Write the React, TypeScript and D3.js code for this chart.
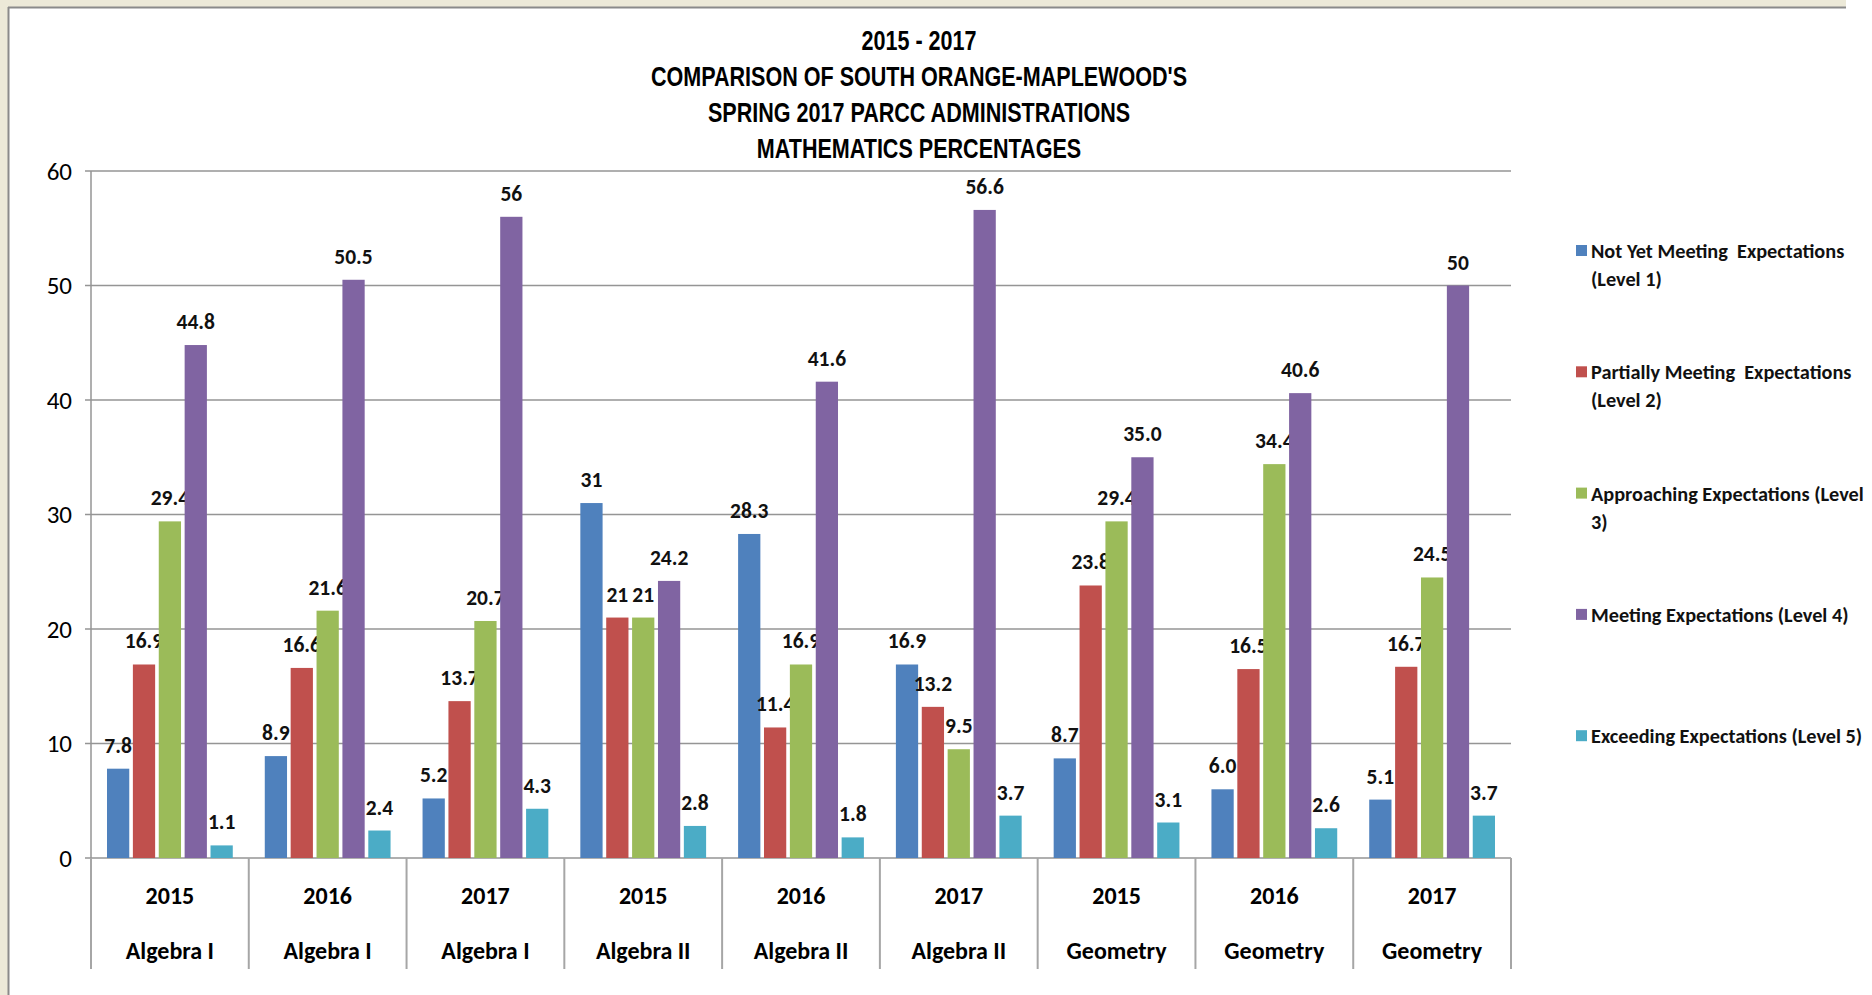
import React from 'react';
import * as d3 from 'd3';

const years = ['2015', '2016', '2017', '2015', '2016', '2017', '2015', '2016', '2017'];
const subjects = [
  'Algebra I', 'Algebra I', 'Algebra I',
  'Algebra II', 'Algebra II', 'Algebra II',
  'Geometry', 'Geometry', 'Geometry',
];

// data labels as printed on the chart (value = parsed label)
const level1 = ['7.8', '8.9', '5.2', '31', '28.3', '16.9', '8.7', '6.0', '5.1'];
const level2 = ['16.9', '16.6', '13.7', '21', '11.4', '13.2', '23.8', '16.5', '16.7'];
const level3 = ['29.4', '21.6', '20.7', '21', '16.9', '9.5', '29.4', '34.4', '24.5'];
const level4 = ['44.8', '50.5', '56', '24.2', '41.6', '56.6', '35.0', '40.6', '50'];
const level5 = ['1.1', '2.4', '4.3', '2.8', '1.8', '3.7', '3.1', '2.6', '3.7'];

const seriesLegend = [
  ['Not Yet Meeting  Expectations', '(Level 1)'],
  ['Partially Meeting  Expectations', '(Level 2)'],
  ['Approaching Expectations (Level', '3)'],
  ['Meeting Expectations (Level 4)'],
  ['Exceeding Expectations (Level 5)'],
];
const seriesColors = ['#4F81BD', '#C0504D', '#9BBB59', '#8064A2', '#4BACC6'];
const yTicks = [0, 10, 20, 30, 40, 50, 60];

const titleLines = [
  '2015 - 2017',
  "COMPARISON OF SOUTH ORANGE-MAPLEWOOD'S",
  'SPRING 2017 PARCC ADMINISTRATIONS',
  'MATHEMATICS PERCENTAGES',
];

const W = 1872;
const H = 995;
const plot = { left: 91, right: 1511, top: 171, bottom: 858 };
const catBottom = 969;
const labelFont = "Carlito, Calibri, Lato, 'DejaVu Sans', sans-serif";
const titleFont = "'Liberation Sans', Arial, sans-serif";
const gridColor = '#959595';

export default function App() {
  const series = [level1, level2, level3, level4, level5];
  const idx = years.map((_, i) => String(i));

  const x0 = d3.scaleBand<string>().domain(idx).range([plot.left, plot.right]).padding(0);
  const bw = x0.bandwidth();
  const x1 = d3.scaleBand<string>()
    .domain(series.map((_, i) => String(i)))
    .range([16, bw - 16])
    .paddingInner(0.14)
    .paddingOuter(0);
  const y = d3.scaleLinear().domain([0, 60]).range([plot.bottom, plot.top]);

  return (
    <svg width={W} height={H} style={{ position: 'absolute', left: 0, top: 0, display: 'block' }}>
      <rect x={0} y={0} width={W} height={H} fill="#ffffff" />
      {/* window frame */}
      <rect x={0} y={0} width={1846} height={7} fill="#ECE9D8" />
      <rect x={0} y={0} width={8} height={H} fill="#ECE9D8" />
      <line x1={8} x2={1846} y1={7.5} y2={7.5} stroke="#8a8a8a" strokeWidth={2} />
      <line x1={8.5} x2={8.5} y1={7} y2={H} stroke="#8a8a8a" strokeWidth={2} />

      {/* title, narrowed to mimic Arial Narrow */}
      <g transform="translate(919,0) scale(0.77,1)">
        {titleLines.map((t, i) => (
          <text
            key={i}
            x={0}
            y={50 + i * 36}
            textAnchor="middle"
            fontFamily={titleFont}
            fontWeight="bold"
            fontSize={28}
            fill="#000"
          >
            {t}
          </text>
        ))}
      </g>

      {/* gridlines and y ticks */}
      {yTicks.map(t => (
        <g key={t}>
          <line x1={plot.left - 6} x2={plot.right} y1={y(t)} y2={y(t)} stroke={gridColor} strokeWidth={1.5} />
          <text
            x={plot.left - 19}
            y={y(t)}
            dy="0.35em"
            textAnchor="end"
            fontFamily={labelFont}
            fontSize={25}
            fill="#000"
          >
            {t}
          </text>
        </g>
      ))}
      <line x1={plot.left} x2={plot.left} y1={plot.top} y2={plot.bottom} stroke={gridColor} strokeWidth={1.5} />

      {/* category separators */}
      {[...idx.map(i => x0(i) as number), plot.right].map((xx, i) => (
        <line key={i} x1={xx} x2={xx} y1={plot.bottom} y2={catBottom} stroke="#a6a6a6" strokeWidth={2} />
      ))}

      {/* bars */}
      {idx.map((c, ci) => (
        <g key={c} transform={`translate(${x0(c)},0)`}>
          {series.map((s, si) => {
            const v = parseFloat(s[ci]);
            const bx = x1(String(si)) as number;
            return (
              <g key={si}>
                <rect
                  x={bx}
                  y={y(v)}
                  width={x1.bandwidth()}
                  height={y(0) - y(v)}
                  fill={seriesColors[si]}
                />
                <text
                  x={bx + x1.bandwidth() / 2}
                  y={y(v) - 16}
                  textAnchor="middle"
                  fontFamily={labelFont}
                  fontWeight="bold"
                  fontSize={21.5}
                  fill="#111"
                >
                  {s[ci]}
                </text>
              </g>
            );
          })}
          <text
            x={bw / 2}
            y={904}
            textAnchor="middle"
            fontFamily={labelFont}
            fontWeight="bold"
            fontSize={24}
            fill="#000"
          >
            {years[ci]}
          </text>
          <text
            x={bw / 2}
            y={959}
            textAnchor="middle"
            fontFamily={labelFont}
            fontWeight="bold"
            fontSize={24}
            fill="#000"
          >
            {subjects[ci]}
          </text>
        </g>
      ))}

      {/* legend */}
      {seriesLegend.map((lines, i) => {
        const cy = 251 + i * 121.3;
        return (
          <g key={i}>
            <rect x={1576} y={cy - 6} width={11} height={11} fill={seriesColors[i]} />
            {lines.map((ln, li) => (
              <text
                key={li}
                x={1591}
                y={cy + li * 28}
                dy="0.35em"
                fontFamily={labelFont}
                fontWeight="bold"
                fontSize={20.3}
                fill="#111"
                style={{ whiteSpace: 'pre' }}
              >
                {ln}
              </text>
            ))}
          </g>
        );
      })}
    </svg>
  );
}
